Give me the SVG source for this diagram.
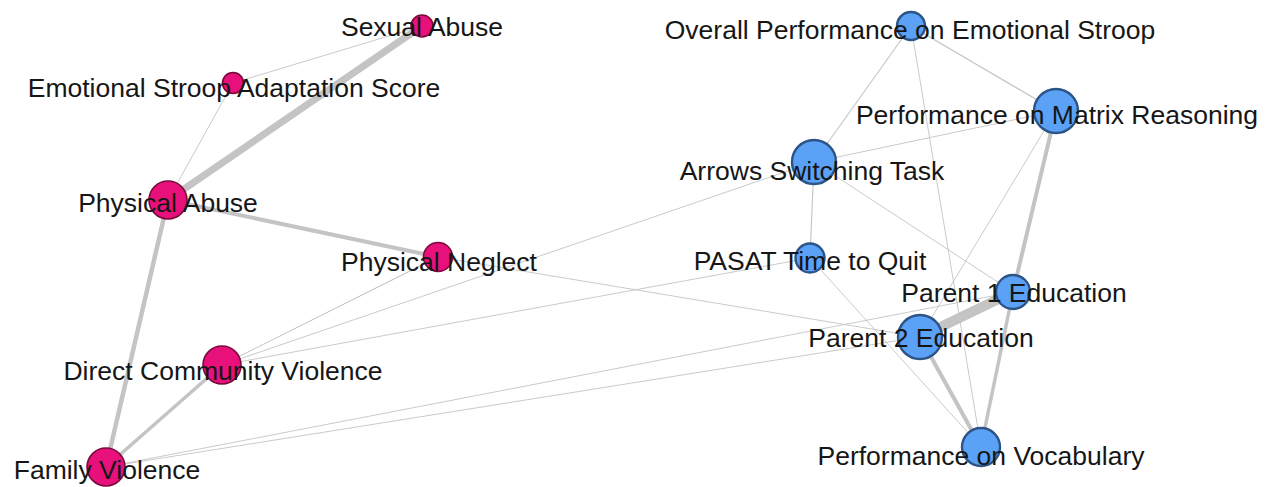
<svg xmlns="http://www.w3.org/2000/svg" width="1270" height="487" viewBox="0 0 1270 487">
<style>
.e{stroke:#c4c4c4;fill:none;stroke-linecap:round}
.t{stroke-width:0.9}
.pk{fill:#e8107a;stroke:#7a0a3c;stroke-width:1.6}
.bl{fill:#5ba2f6;stroke:#2d5486;stroke-width:2.4}
text{font-family:"Liberation Sans",Arial,sans-serif;font-size:26.5px;fill:#161616;text-anchor:middle}
</style>
<rect width="1270" height="487" fill="#ffffff"/>
<g id="connectors">
<line class="e" x1="422" y1="26" x2="168" y2="200" stroke-width="7"/>
<line class="e t" x1="422" y1="26" x2="233" y2="83"/>
<line class="e t" x1="233" y1="83" x2="168" y2="200"/>
<line class="e" x1="168" y1="200" x2="438" y2="257" stroke-width="4"/>
<line class="e" x1="168" y1="200" x2="106" y2="467" stroke-width="4.5"/>
<line class="e" x1="222" y1="365" x2="106" y2="467" stroke-width="3.5"/>
<line class="e" x1="222" y1="365" x2="438" y2="257" stroke-width="1.1"/>
<line class="e t" x1="222" y1="365" x2="814" y2="162"/>
<line class="e t" x1="222" y1="365" x2="810" y2="258"/>
<line class="e t" x1="438" y1="257" x2="920" y2="337"/>
<line class="e t" x1="106" y1="467" x2="1013" y2="292"/>
<line class="e t" x1="106" y1="467" x2="920" y2="337"/>
<line class="e" x1="911" y1="26" x2="814" y2="162" stroke-width="1.1"/>
<line class="e" x1="911" y1="26" x2="1056" y2="111" stroke-width="1.3"/>
<line class="e t" x1="911" y1="26" x2="981" y2="447"/>
<line class="e t" x1="814" y1="162" x2="1056" y2="111"/>
<line class="e" x1="814" y1="162" x2="810" y2="258" stroke-width="1.1"/>
<line class="e t" x1="814" y1="162" x2="1013" y2="292"/>
<line class="e t" x1="1056" y1="111" x2="920" y2="337"/>
<line class="e" x1="1056" y1="111" x2="1013" y2="292" stroke-width="4"/>
<line class="e" x1="1013" y1="292" x2="981" y2="447" stroke-width="3.5"/>
<line class="e" x1="1013" y1="292" x2="920" y2="337" stroke-width="10"/>
<line class="e" x1="920" y1="337" x2="981" y2="447" stroke-width="4"/>
<line class="e t" x1="810" y1="258" x2="981" y2="447"/>
</g>
<g id="node-sexual-abuse"><circle class="pk" cx="422" cy="26" r="11"/><text x="422" y="36">Sexual Abuse</text></g>
<g id="node-emotional-stroop-adaptation"><circle class="pk" cx="233" cy="83" r="10.5"/><text x="234" y="97">Emotional Stroop Adaptation Score</text></g>
<g id="node-physical-abuse"><circle class="pk" cx="168" cy="200" r="19"/><text x="168" y="212">Physical Abuse</text></g>
<g id="node-physical-neglect"><circle class="pk" cx="438" cy="257" r="14.5"/><text x="439" y="271">Physical Neglect</text></g>
<g id="node-direct-community-violence"><circle class="pk" cx="222" cy="365" r="19"/><text x="223" y="380">Direct Community Violence</text></g>
<g id="node-family-violence"><circle class="pk" cx="106" cy="467" r="19"/><text x="107" y="479">Family Violence</text></g>
<g id="node-overall-performance-stroop"><circle class="bl" cx="911" cy="26" r="14"/><text x="910" y="39">Overall Performance on Emotional Stroop</text></g>
<g id="node-matrix-reasoning"><circle class="bl" cx="1056" cy="111" r="22"/><text x="1057" y="124">Performance on Matrix Reasoning</text></g>
<g id="node-arrows-switching"><circle class="bl" cx="814" cy="162" r="22"/><text x="812" y="180">Arrows Switching Task</text></g>
<g id="node-pasat"><circle class="bl" cx="810" cy="258" r="14.5"/><text x="810" y="270">PASAT Time to Quit</text></g>
<g id="node-parent-1"><circle class="bl" cx="1013" cy="292" r="17"/><text x="1014" y="302">Parent 1 Education</text></g>
<g id="node-parent-2"><circle class="bl" cx="920" cy="337" r="22"/><text x="921" y="347">Parent 2 Education</text></g>
<g id="node-vocabulary"><circle class="bl" cx="981" cy="447" r="19"/><text x="981" y="465">Performance on Vocabulary</text></g>
</svg>
